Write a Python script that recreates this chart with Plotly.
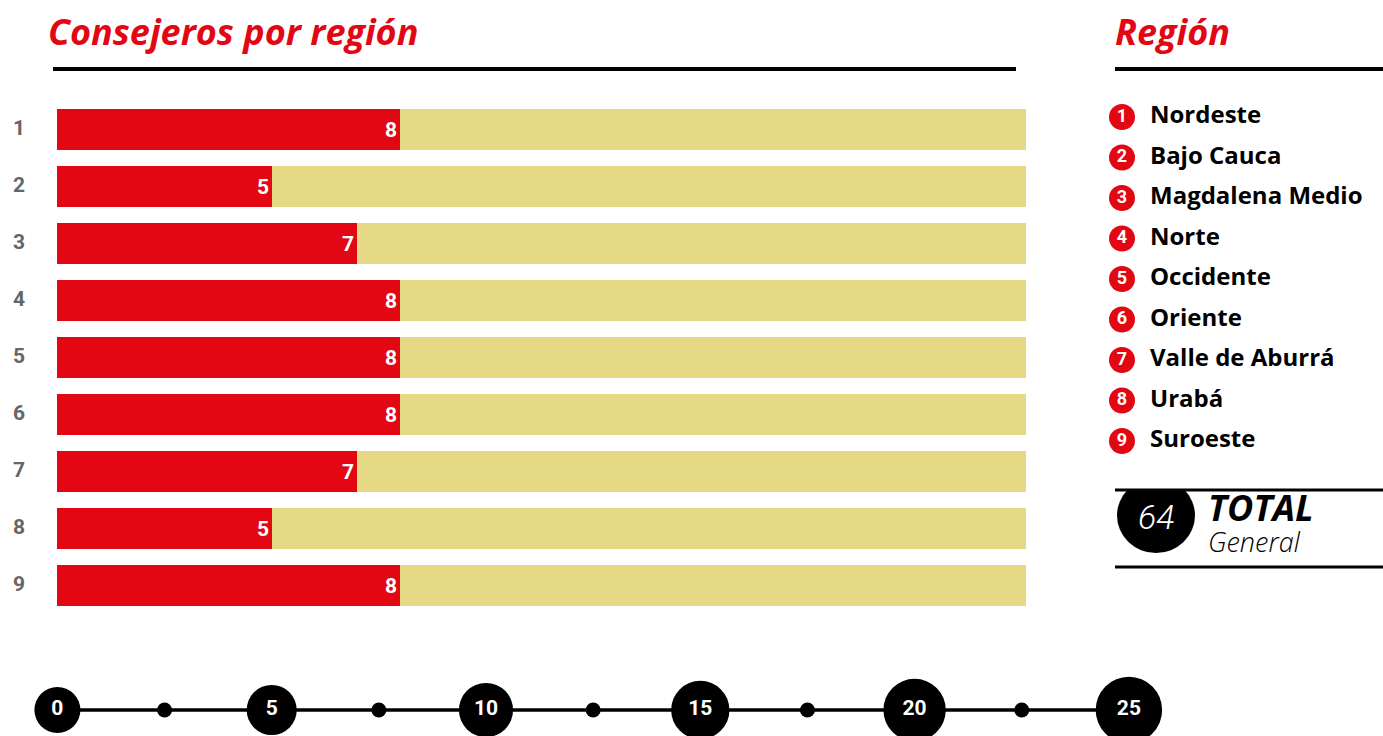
import plotly.graph_objects as go

# ---------------- data ----------------
region_num = [1, 2, 3, 4, 5, 6, 7, 8, 9]
region_names = ["Nordeste", "Bajo Cauca", "Magdalena Medio", "Norte", "Occidente",
                "Oriente", "Valle de Aburrá", "Urabá", "Suroeste"]
consejeros = [8, 5, 7, 8, 8, 8, 7, 5, 8]
background_max = 22.6
scale_major = [0, 5, 10, 15, 20, 25]
scale_minor = [2.5, 7.5, 12.5, 17.5, 22.5]
total_general = sum(consejeros)

# ---------------- geometry helpers (pixel -> data) ----------------
W, H = 1383, 736
PX_X0, PX_PER_UNIT = 57.4, 42.86
ROW1_PX, ROW_PX = 129.5, 57.0
x_range = [-PX_X0 / PX_PER_UNIT, (W - PX_X0) / PX_PER_UNIT]
y_top = 1 - ROW1_PX / ROW_PX
y_bottom = y_top + H / ROW_PX


def xv(px):
    return (px - PX_X0) / PX_PER_UNIT


def yv(py):
    return y_top + py / ROW_PX


def xp(px):
    return px / W


def yp(py):
    return 1 - py / H


RED = "#E30613"
TAN = "#E6D985"
FONT = "Roboto"
FONT2 = "Open Sans"

fig = go.Figure()

# background bars
fig.add_trace(go.Bar(
    x=[background_max] * len(region_num), y=region_num, orientation="h",
    marker=dict(color=TAN, line=dict(width=0)), width=0.72, hoverinfo="skip",
    showlegend=False))

# value bars
fig.add_trace(go.Bar(
    x=consejeros, y=region_num, orientation="h",
    marker=dict(color=RED, line=dict(width=0)), width=0.72,
    text=[str(v) for v in consejeros], textposition="inside",
    insidetextanchor="end",
    textfont=dict(family=FONT, size=21, color="white", weight="bold"),
    hoverinfo="skip", showlegend=False))

# row numbers
fig.add_trace(go.Scatter(
    x=[xv(19)] * len(region_num), y=region_num, mode="text",
    text=[str(r) for r in region_num], textposition="middle center",
    textfont=dict(family=FONT, size=21, color="#666666", weight="bold"),
    hoverinfo="skip", showlegend=False, cliponaxis=False))

# bottom scale line
axis_y = yv(710)
fig.add_trace(go.Scatter(
    x=[scale_major[0], scale_major[-1]], y=[axis_y, axis_y], mode="lines",
    line=dict(color="black", width=3.5), hoverinfo="skip", showlegend=False,
    cliponaxis=False))

# minor dots
fig.add_trace(go.Scatter(
    x=scale_minor, y=[axis_y] * len(scale_minor), mode="markers",
    marker=dict(color="black", size=15, opacity=1), hoverinfo="skip",
    showlegend=False, cliponaxis=False))

# major circles with numbers
fig.add_trace(go.Scatter(
    x=scale_major, y=[axis_y] * len(scale_major), mode="markers+text",
    marker=dict(color="black", opacity=1, line=dict(width=0),
                size=[46 + 0.82 * t for t in scale_major]),
    text=[str(t) for t in scale_major], textposition="middle center",
    textfont=dict(family=FONT, size=21, color="white", weight="bold"),
    hoverinfo="skip", showlegend=False, cliponaxis=False))

# legend: red numbered circles + names
leg_y = [yv(117 + 40.5 * i) for i in range(len(region_num))]
fig.add_trace(go.Scatter(
    x=[xv(1122)] * len(region_num), y=leg_y, mode="markers+text",
    marker=dict(color=RED, size=26, opacity=1),
    text=[str(r) for r in region_num], textposition="middle center",
    textfont=dict(family=FONT, size=18, color="white", weight="bold"),
    hoverinfo="skip", showlegend=False, cliponaxis=False))
fig.add_trace(go.Scatter(
    x=[xv(1150)] * len(region_num), y=leg_y, mode="text",
    text=region_names, textposition="middle right",
    textfont=dict(family=FONT2, size=24, color="black", weight="bold"),
    hoverinfo="skip", showlegend=False, cliponaxis=False))

shapes = [
    # title underlines
    dict(type="line", xref="paper", yref="paper", x0=xp(53), x1=xp(1016),
         y0=yp(69), y1=yp(69), line=dict(color="black", width=4)),
    dict(type="line", xref="paper", yref="paper", x0=xp(1115), x1=xp(1383),
         y0=yp(69), y1=yp(69), line=dict(color="black", width=4)),
    # total circle
    dict(type="circle", xref="paper", yref="paper", x0=xp(1117), x1=xp(1195),
         y0=yp(553), y1=yp(478), fillcolor="black", line=dict(width=0)),
    dict(type="rect", xref="paper", yref="paper", x0=xp(1110), x1=xp(1200),
         y0=yp(490), y1=yp(470), fillcolor="white", line=dict(width=0)),
    dict(type="line", xref="paper", yref="paper", x0=xp(1115), x1=xp(1383),
         y0=yp(490), y1=yp(490), line=dict(color="black", width=3)),
    dict(type="line", xref="paper", yref="paper", x0=xp(1115), x1=xp(1383),
         y0=yp(567), y1=yp(567), line=dict(color="black", width=3)),
]

annotations = [
    dict(text="Consejeros por región", xref="paper", yref="paper",
         x=xp(46), y=yp(31), xanchor="left", yanchor="middle", showarrow=False,
         font=dict(family=FONT2, size=36, color=RED, weight="bold", style="italic")),
    dict(text="Región", xref="paper", yref="paper",
         x=xp(1113), y=yp(31), xanchor="left", yanchor="middle", showarrow=False,
         font=dict(family=FONT2, size=36, color=RED, weight="bold", style="italic")),
    dict(text=str(total_general), xref="paper", yref="paper",
         x=xp(1156), y=yp(517), xanchor="center", yanchor="middle", showarrow=False,
         font=dict(family=FONT, size=34, color="white", weight=300, style="italic")),
    dict(text="TOTAL", xref="paper", yref="paper",
         x=xp(1206), y=yp(507), xanchor="left", yanchor="middle", showarrow=False,
         font=dict(family=FONT2, size=36, color="black", weight="bold", style="italic")),
    dict(text="General", xref="paper", yref="paper",
         x=xp(1206), y=yp(541), xanchor="left", yanchor="middle", showarrow=False,
         font=dict(family=FONT2, size=27, color="black", weight=300, style="italic")),
]

fig.update_layout(
    width=W, height=H, margin=dict(l=0, r=0, t=0, b=0),
    paper_bgcolor="white", plot_bgcolor="white",
    barmode="overlay", bargap=0,
    xaxis=dict(range=x_range, domain=[0, 1], visible=False, fixedrange=True),
    yaxis=dict(range=[y_bottom, y_top], domain=[0, 1], visible=False, fixedrange=True),
    shapes=shapes, annotations=annotations,
    font=dict(family=FONT),
)

fig.write_html("out.html", config={"displayModeBar": False},
               post_script="document.body.style.margin='0';document.body.style.overflow='hidden';")
